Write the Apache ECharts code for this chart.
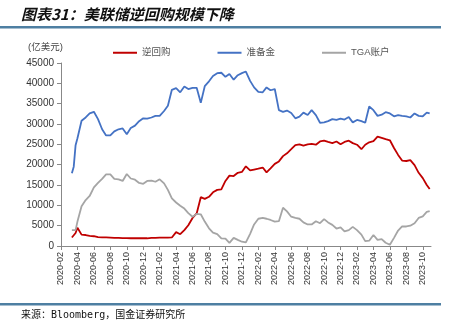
<!DOCTYPE html>
<html>
<head>
<meta charset="utf-8">
<script src="https://cdn.jsdelivr.net/npm/echarts@6/dist/echarts.min.js"></script>
<style>
  html, body { margin: 0; padding: 0; background: #fff; }
  #chart { width: 454px; height: 333px; }
</style>
</head>
<body>
<div id="chart"></div>
<script>
// Weekly-ish observation dates (semi-monthly after the March 2020 ramp)
const dates = [
  '2020-03-11','2020-03-18','2020-03-25',
  '2020-04-01','2020-04-16','2020-05-01','2020-05-16','2020-06-01','2020-06-16',
  '2020-07-01','2020-07-16','2020-08-01','2020-08-16','2020-09-01','2020-09-16',
  '2020-10-01','2020-10-16','2020-11-01','2020-11-16','2020-12-01','2020-12-16',
  '2021-01-01','2021-01-16','2021-02-01','2021-02-16','2021-03-01','2021-03-16',
  '2021-04-01','2021-04-16','2021-05-01','2021-05-16','2021-06-01','2021-06-16',
  '2021-07-01','2021-07-16','2021-08-01','2021-08-16','2021-09-01','2021-09-16',
  '2021-10-01','2021-10-16','2021-11-01','2021-11-16','2021-12-01','2021-12-16',
  '2022-01-01','2022-01-16','2022-02-01','2022-02-16','2022-03-01','2022-03-16',
  '2022-04-01','2022-04-16','2022-05-01','2022-05-16','2022-06-01','2022-06-16',
  '2022-07-01','2022-07-16','2022-08-01','2022-08-16','2022-09-01','2022-09-16',
  '2022-10-01','2022-10-16','2022-11-01','2022-11-16','2022-12-01','2022-12-16',
  '2023-01-01','2023-01-16','2023-02-01','2023-02-16','2023-03-01','2023-03-16',
  '2023-04-01','2023-04-16','2023-05-01','2023-05-16','2023-06-01','2023-06-16',
  '2023-07-01','2023-07-16','2023-08-01','2023-08-16','2023-09-01','2023-09-16',
  '2023-10-01','2023-10-16','2023-10-27'
];

// 逆回购 (亿美元)
const reverseRepo = [
  2100, 2300, 3200,
  4500, 2800, 2700, 2500, 2400, 2200,
  2100, 2100, 2050, 2000, 2000, 1950,
  1950, 1900, 1900, 1900, 1900, 1900,
  2000, 2000, 2050, 2050, 2050, 2100,
  3400, 2900, 3900, 5100, 6900, 8000,
  12000, 11600, 12100, 13200, 13800, 13900,
  16000, 17300, 17200, 18000, 18200, 19600,
  18600, 18800, 19000, 19300, 18100, 19100,
  20200, 20800, 22100, 22800, 23800, 24800,
  25000, 24700, 25000, 25100, 24900, 25700,
  25900, 25600, 25300, 25700, 25000, 25600,
  25900, 25300, 24900, 23800, 24900, 25500,
  25800, 26900, 26600, 26300, 26000, 24100,
  22400, 21000, 20900, 21100, 19900, 18000,
  16700, 15000, 14000
];

// 准备金 (亿美元)
const reserves = [
  17900, 19500, 24800,
  26500, 30800, 31600, 32600, 33000, 31200,
  28700, 27200, 27200, 28200, 28700, 28900,
  27500, 29000, 29600, 30700, 31400, 31300,
  31600, 32000, 32000, 33200, 34500, 38400,
  38800, 37800, 39200, 38600, 38900, 38900,
  35200, 39300, 40500, 41800, 42500, 42600,
  41600, 42300, 40900, 42000, 42500, 42900,
  40600, 39000, 37900, 37800, 39000, 38300,
  38600, 33400, 33000, 33300, 32700, 31400,
  31800, 32800, 32200, 33400, 32200, 30300,
  30400, 30700, 31200, 31000, 31300, 31100,
  31700, 30400, 31000, 30700, 30300, 34300,
  33400, 32000, 32300, 32900, 32600, 31900,
  32200, 32000, 31900, 31600, 32600, 32000,
  31900, 32800, 32600
];

// TGA账户 (亿美元)
const tga = [
  3900, 4200, 3900,
  6000, 9800, 11300, 12300, 14400, 15500,
  16500, 17600, 17600, 16500, 16400, 16000,
  17700, 16600, 16300, 15500, 15300, 16000,
  16100, 15800, 16400, 15400, 13800, 11700,
  10700, 9900, 9200, 8100, 7200, 7900,
  7800, 6000, 4350, 3300, 2900, 1900,
  1800, 750, 2000, 1500, 1050, 900,
  3000, 5300, 6700, 6900, 6700, 6400,
  6000, 6100, 9400, 8500, 7200, 6900,
  6700, 5800, 5300, 5300, 6100, 5600,
  6600, 5800, 5200, 4300, 4600, 3600,
  3900, 4700, 3900, 2800, 1200, 1300,
  2700, 1500, 1700, 800, 300, 2000,
  3800, 4800, 4800, 5000, 5600, 6900,
  7300, 8400, 8600
];

const yTicks = [0, 5000, 10000, 15000, 20000, 25000, 30000, 35000, 40000, 45000];

// x axis runs in months counted from 2020-02
function monthOffset(s) {
  const [y, m, d] = s.split('-').map(Number);
  const dim = new Date(y, m, 0).getDate();
  return (y - 2020) * 12 + (m - 2) + (d - 1) / dim;
}
function monthLabel(v) {
  const t = Math.round(v) + 1;
  const y = 2020 + Math.floor(t / 12);
  const m = (t % 12) + 1;
  return y + '-' + (m < 10 ? '0' + m : m);
}
const xs = dates.map(monthOffset);
const pair = arr => arr.map((v, i) => [xs[i], v]);

const FONT = '"Liberation Sans", "Noto Sans CJK SC", sans-serif';
const chart = echarts.init(document.getElementById('chart'));

chart.setOption({
  animation: false,
  backgroundColor: '#fff',
  textStyle: { fontFamily: FONT },
  grid: { left: 61, right: 23, top: 63, bottom: 87, containLabel: false },
  legend: {
    left: 108, top: 43,
    icon: 'rect', itemWidth: 24, itemHeight: 2, itemGap: 47,
    textStyle: { fontSize: 9.5, color: '#555', fontFamily: FONT },
    data: ['逆回购', '准备金', 'TGA账户']
  },
  graphic: [
    { type: 'text', left: 21, top: 7,
      style: { text: '图表31：美联储逆回购规模下降', fontSize: 15, fontWeight: 'bold', fontStyle: 'italic',
               fill: '#111', fontFamily: '"Noto Sans CJK SC", sans-serif' } },
    { type: 'rect', shape: { x: 0, y: 26, width: 441, height: 2.5 }, style: { fill: '#4e7fa2' } },
    { type: 'text', left: 28, top: 43,
      style: { text: '(亿美元)', fontSize: 9.5, fill: '#444', fontFamily: FONT } },
    { type: 'rect', shape: { x: 0, y: 303, width: 441, height: 2.5 }, style: { fill: '#4e7fa2' } },
    { type: 'text', left: 21, top: 310,
      style: { text: '来源：Bloomberg，国金证券研究所', fontSize: 10, fill: '#111',
               fontFamily: '"DejaVu Sans Mono", "Noto Sans CJK SC", monospace' } }
  ],
  xAxis: {
    type: 'value', min: 0, max: 45, interval: 2,
    splitLine: { show: false },
    axisLine: { show: true, lineStyle: { color: '#888', width: 1 } },
    axisTick: { show: true, length: 4, lineStyle: { color: '#888' } },
    axisLabel: {
      rotate: 90, fontSize: 9, color: '#333', margin: 6, showMaxLabel: false,
      formatter: monthLabel
    }
  },
  yAxis: {
    type: 'value', min: 0, max: 45000, interval: 5000,
    splitLine: { show: false },
    axisLine: { show: true, lineStyle: { color: '#888', width: 1 } },
    axisTick: { show: true, length: 4, lineStyle: { color: '#888' } },
    axisLabel: { fontSize: 10, color: '#333', margin: 7,
      formatter: v => yTicks.includes(v) ? String(v) : '' }
  },
  series: [
    { name: '逆回购', type: 'line', data: pair(reverseRepo), showSymbol: false,
      lineStyle: { color: '#c00000', width: 1.8 }, itemStyle: { color: '#c00000' } },
    { name: '准备金', type: 'line', data: pair(reserves), showSymbol: false,
      lineStyle: { color: '#4472c4', width: 1.8 }, itemStyle: { color: '#4472c4' } },
    { name: 'TGA账户', type: 'line', data: pair(tga), showSymbol: false,
      lineStyle: { color: '#a5a5a5', width: 1.8 }, itemStyle: { color: '#a5a5a5' } }
  ]
});
</script>
</body>
</html>
